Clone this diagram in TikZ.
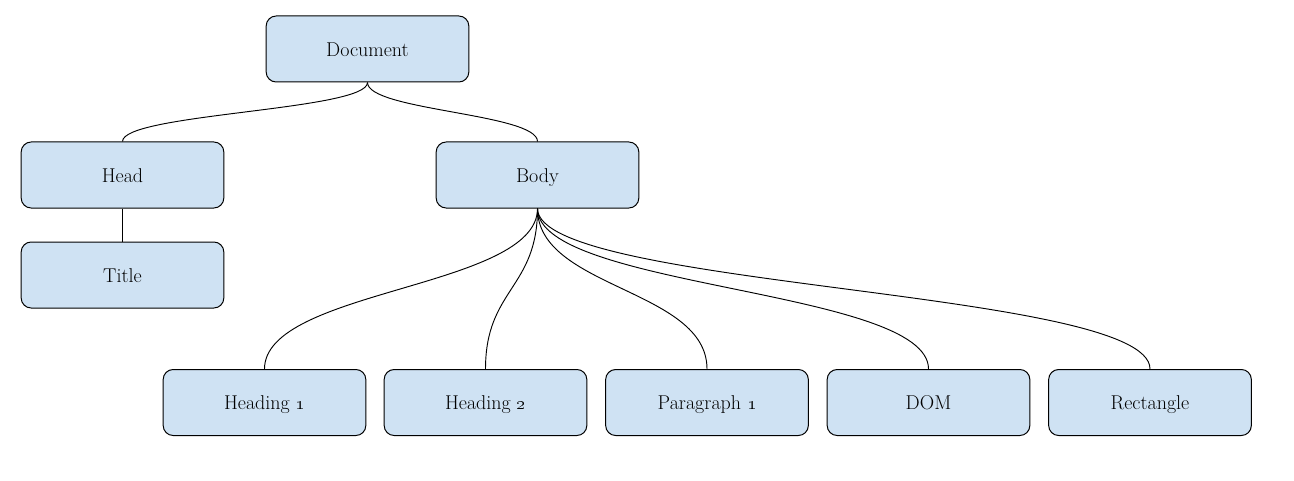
\documentclass[tikz,border=0pt]{standalone}
\usetikzlibrary{calc}
\definecolor{boxblue}{HTML}{CFE2F3}
\tikzset{
  treebox/.style={draw=black, fill=boxblue, line width=0.75pt, rounded corners=7.5pt,
    minimum width=152pt, minimum height=49.5pt, inner sep=0pt,
    text height=12.5pt, text depth=1.5pt,
    font=\fontsize{15}{18}\selectfont, text=black},
  treelink/.style={draw=black, line width=0.7pt}
}
\begin{document}
\begin{tikzpicture}[x=0.75pt, y=-0.75pt]
\useasboundingbox (0,0) rectangle (1294,481);
\node[treebox] (doc) at (367.5,49) {Document};
\node[treebox] (head) at (122.5,175) {Head};
\node[treebox] (body) at (537.5,175) {Body};
\node[treebox] (title) at (122.5,275) {Title};
\node[treebox] (h1) at (264.5,402.5) {Heading \oldstylenums{1}};
\node[treebox] (h2) at (485.5,402.5) {Heading \oldstylenums{2}};
\node[treebox] (p1) at (707,402.5) {Paragraph \oldstylenums{1}};
\node[treebox] (dom) at (928.5,402.5) {DOM};
\node[treebox] (rect) at (1150,402.5) {Rectangle};

\draw[treelink] (doc.south) .. controls +(0,28) and +(0,-28) .. (head.north);
\draw[treelink] (doc.south) .. controls +(0,28) and +(0,-28) .. (body.north);
\draw[treelink] (head.south) -- (title.north);
\draw[treelink] (body.south) .. controls +(0,80) and +(0,-80) .. (h1.north);
\draw[treelink] (body.south) .. controls +(0,80) and +(0,-80) .. (h2.north);
\draw[treelink] (body.south) .. controls +(0,80) and +(0,-80) .. (p1.north);
\draw[treelink] (body.south) .. controls +(0,80) and +(0,-80) .. (dom.north);
\draw[treelink] (body.south) .. controls +(0,80) and +(0,-80) .. (rect.north);
\end{tikzpicture}
\end{document}
